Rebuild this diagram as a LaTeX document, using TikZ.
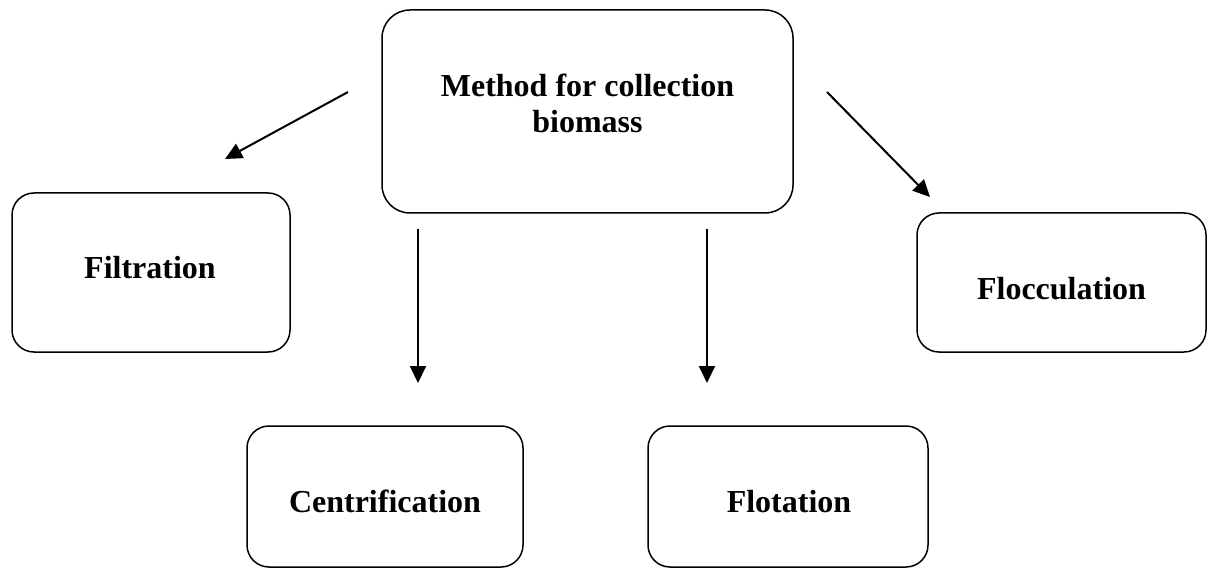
\documentclass[tikz,border=0pt]{standalone}
\usepackage{fontspec}
\setmainfont{Liberation Serif}
\usetikzlibrary{arrows.meta}
\begin{document}
\begin{tikzpicture}[x=1pt,y=-1pt,
  box/.style={draw,line width=1.5pt,rounded corners=22pt,rectangle,inner sep=0pt},
  lbl/.style={font=\fontsize{32}{36}\selectfont\bfseries,inner sep=0pt,anchor=base},
  arr/.style={line width=2pt,-{Triangle[length=17pt,width=16pt]}}]
\useasboundingbox (0,0) rectangle (1207,569);
% boxes
\node[box,rounded corners=28pt,minimum width=411pt,minimum height=203pt] (main) at (587.5,111.5) {};
\node[box,minimum width=278pt,minimum height=159pt] (filt) at (151,272.5) {};
\node[box,minimum width=289pt,minimum height=139pt] (floc) at (1061.5,282.5) {};
\node[box,minimum width=276pt,minimum height=141pt] (cent) at (385,496.5) {};
\node[box,minimum width=280pt,minimum height=141pt] (flot) at (788,496.5) {};
% labels
\node[lbl] (mainA) at (587.5,97) {Method for collection};
\node[lbl] (mainB) at (587.5,133) {biomass};
\node[lbl] (filtT) at (150,279) {Filtration};
\node[lbl] (flocT) at (1061.5,299) {Flocculation};
\node[lbl] (centT) at (385,512) {Centrification};
\node[lbl] (flotT) at (789,512) {Flotation};
% arrow ends
\coordinate (s1) at (348,92);
\coordinate (e1) at (225,159);
\coordinate (s2) at (418,229);
\coordinate (e2) at (418,383);
\coordinate (s3) at (707,229);
\coordinate (e3) at (707,383);
\coordinate (s4) at (827,92);
\coordinate (e4) at (930,197);
\draw[arr] (s1) -- (e1);
\draw[arr] (s2) -- (e2);
\draw[arr] (s3) -- (e3);
\draw[arr] (s4) -- (e4);
\end{tikzpicture}
\end{document}
